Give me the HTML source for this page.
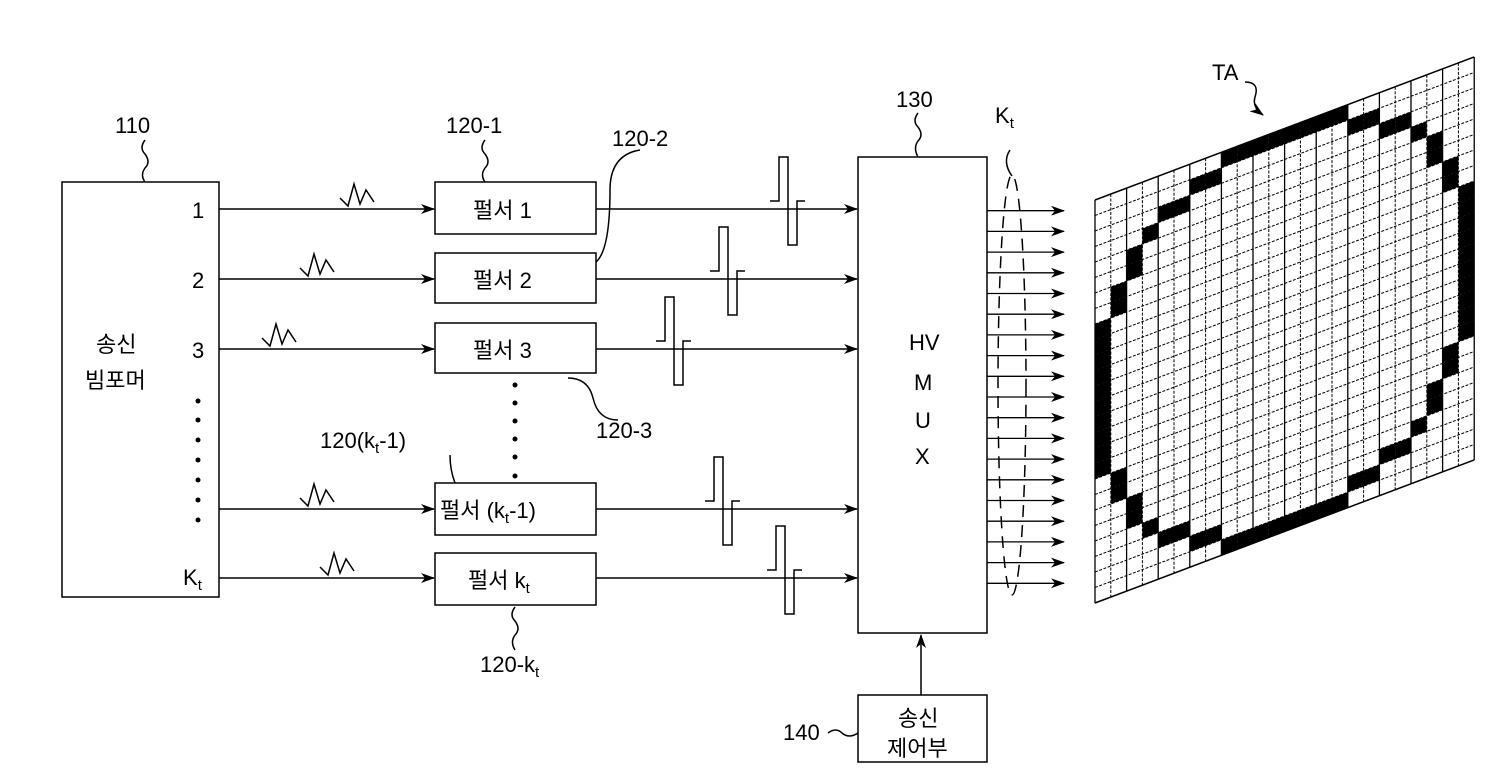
<!DOCTYPE html>
<html><head><meta charset="utf-8"><style>
body{margin:0;background:#fff;}
svg{display:block;}
text{font-family:"Liberation Sans","Noto Sans CJK KR",sans-serif;fill:#000;}
</style></head><body>
<svg id="s" width="1500" height="780" viewBox="0 0 1500 780" xmlns="http://www.w3.org/2000/svg">
<defs>
<marker id="ar" markerWidth="14" markerHeight="10" refX="13" refY="5" orient="auto" markerUnits="userSpaceOnUse">
<path d="M0,0 L14,5 L0,10 L4,5 Z" fill="#000"/></marker>
</defs>
<g fill="none" stroke="#000" stroke-width="1.5">
<rect x="62" y="182" width="157" height="415"/>
<path d="M145,140 q-6,8 0,14 q6,8 0,14 q-5,7 0,14"/>
<rect x="435" y="182" width="161" height="52"/>
<rect x="435" y="253" width="161" height="50"/>
<rect x="435" y="323" width="161" height="50"/>
<rect x="435" y="483" width="161" height="52"/>
<rect x="435" y="553" width="161" height="52"/>
<line x1="219" y1="209" x2="434" y2="209" marker-end="url(#ar)"/>
<line x1="219" y1="279" x2="434" y2="279" marker-end="url(#ar)"/>
<line x1="219" y1="349" x2="434" y2="349" marker-end="url(#ar)"/>
<line x1="219" y1="509" x2="434" y2="509" marker-end="url(#ar)"/>
<line x1="219" y1="578" x2="434" y2="578" marker-end="url(#ar)"/>
<line x1="596" y1="209" x2="857" y2="209" marker-end="url(#ar)"/>
<line x1="596" y1="279" x2="857" y2="279" marker-end="url(#ar)"/>
<line x1="596" y1="349" x2="857" y2="349" marker-end="url(#ar)"/>
<line x1="596" y1="509" x2="857" y2="509" marker-end="url(#ar)"/>
<line x1="596" y1="578" x2="857" y2="578" marker-end="url(#ar)"/>
<path d="M340,198 l8,8 l6,-22 l6,20 l6,-14 l8,12"/>
<path d="M300,268 l8,8 l6,-22 l6,20 l6,-14 l8,12"/>
<path d="M262,338 l8,8 l6,-22 l6,20 l6,-14 l8,12"/>
<path d="M300,498 l8,8 l6,-22 l6,20 l6,-14 l8,12"/>
<path d="M320,567 l8,8 l6,-22 l6,20 l6,-14 l8,12"/>
<path d="M770,201 h9 v-44 h9 v88 h9 v-44 h8"/>
<path d="M710,271 h9 v-44 h9 v88 h9 v-44 h8"/>
<path d="M656,341 h9 v-44 h9 v88 h9 v-44 h8"/>
<path d="M705,501 h9 v-44 h9 v88 h9 v-44 h8"/>
<path d="M767,570 h9 v-44 h9 v88 h9 v-44 h8"/>
<rect x="858" y="157" width="129" height="476"/>
<path d="M918,113 q-6,8 0,14 q6,8 0,14 q-5,7 0,16"/>
<rect x="858" y="695" width="129" height="67"/>
<line x1="921" y1="695" x2="921" y2="635" marker-end="url(#ar)"/>
<path d="M828,733 q8,-6 14,0 q7,6 16,0"/>
<ellipse cx="1012" cy="385" rx="14" ry="210" stroke-dasharray="12,8"/>
<path d="M1010,150 q-8,12 2,26"/>
<path d="M485,140 q-6,8 0,14 q6,8 0,14 q-5,7 0,14"/>
<path d="M640,150 q-30,5 -30,40 q0,60 -14,72"/>
<path d="M568,378 q20,0 25,20 q5,22 25,22"/>
<path d="M450,455 q0,15 5,28"/>
<path d="M515,607 q-6,8 0,14 q6,8 0,14 q-5,7 0,15"/>
<path d="M1245,82 q15,0 10,15 q-3,10 8,18" marker-end="url(#ar)"/>
</g>
<g fill="#000">
<circle cx="198" cy="401" r="2.5"/><circle cx="198" cy="420" r="2.5"/><circle cx="198" cy="440" r="2.5"/><circle cx="198" cy="460" r="2.5"/><circle cx="198" cy="480" r="2.5"/><circle cx="198" cy="500" r="2.5"/><circle cx="198" cy="520" r="2.5"/>
<circle cx="515" cy="385" r="2.5"/><circle cx="515" cy="403" r="2.5"/><circle cx="515" cy="421" r="2.5"/><circle cx="515" cy="439" r="2.5"/><circle cx="515" cy="457" r="2.5"/><circle cx="515" cy="476" r="2.5"/>
</g>
<g id="outs" fill="none" stroke="#000" stroke-width="1.3"></g>
<g id="grid"></g>
<g font-size="22">
<text x="115" y="133">110</text>
<text x="96" y="352">송신</text>
<text x="85" y="388">빔포머</text>
<text x="192" y="218">1</text>
<text x="192" y="288">2</text>
<text x="192" y="358">3</text>
<text x="183" y="585">K<tspan font-size="15" dy="5">t</tspan></text>
<text x="446" y="133">120-1</text>
<text x="612" y="146">120-2</text>
<text x="596" y="438">120-3</text>
<text x="320" y="448">120(k<tspan font-size="15" dy="5">t</tspan><tspan dy="-5">-1)</tspan></text>
<text x="480" y="672">120-k<tspan font-size="15" dy="5">t</tspan></text>
<text x="473" y="218">펄서  1</text>
<text x="473" y="288">펄서  2</text>
<text x="473" y="358">펄서  3</text>
<text x="440" y="518">펄서  (k<tspan font-size="15" dy="5">t</tspan><tspan dy="-5">-1)</tspan></text>
<text x="468" y="588">펄서  k<tspan font-size="15" dy="5">t</tspan></text>
<text x="896" y="107">130</text>
<text x="995" y="123">K<tspan font-size="15" dy="5">t</tspan></text>
<text x="909" y="350">HV</text>
<text x="914" y="390">M</text>
<text x="915" y="428">U</text>
<text x="915" y="464">X</text>
<text x="898" y="726">송신</text>
<text x="887" y="756">제어부</text>
<text x="783" y="740">140</text>
<text x="1212" y="80">TA</text>
</g>
</svg>
<script>
(function(){
var NS="http://www.w3.org/2000/svg";
var outs=document.getElementById("outs");
for(var i=0;i<19;i++){var y=210.7+i*20.7;var l=document.createElementNS(NS,"line");
l.setAttribute("x1",987);l.setAttribute("x2",1064);l.setAttribute("y1",y);l.setAttribute("y2",y);l.setAttribute("marker-end","url(#ar)");outs.appendChild(l);}
var g=document.getElementById("grid");
var X0=1095,Y0=200,cw=15.8,sl=5.96,rh=403/26,C=24,R=26;
function P(c,r){return [X0+c*cw,Y0-c*sl+r*rh];}
var black={};
function b(c,r){black[c+","+r]=1;black[(23-c)+","+r]=1;}
for(var c=8;c<=15;c++){black[c+",0"]=1;black[c+",25"]=1;}
var spec=[[16,[1,24]],[17,[1,24]],[18,[2,23]],[19,[2,23]],[20,[3,22]],[21,[4,5,20,21]],[22,[6,7,18,19]],[23,[8,9,10,11,12,13,14,15,16,17]]];
spec.forEach(function(s){s[1].forEach(function(r){b(s[0],r);});});
for(var k in black){var p=k.split(",");var c=+p[0],r=+p[1];
var a=P(c,r),bb=P(c+1,r),cc=P(c+1,r+1),d=P(c,r+1);
var pg=document.createElementNS(NS,"polygon");pg.setAttribute("points",[a,bb,cc,d].map(function(q){return q.join(",");}).join(" "));pg.setAttribute("fill","#000");g.appendChild(pg);}
for(var r=0;r<=R;r++){var a=P(0,r),e=P(C,r);var l=document.createElementNS(NS,"line");
l.setAttribute("x1",a[0]);l.setAttribute("y1",a[1]);l.setAttribute("x2",e[0]);l.setAttribute("y2",e[1]);l.setAttribute("stroke","#000");l.setAttribute("stroke-width",(r==0||r==R)?1.5:1);if(r>0&&r<R)l.setAttribute("stroke-dasharray","3,1.5");g.appendChild(l);}
for(var c=0;c<=C;c++){var a=P(c,0),e=P(c,R);var l=document.createElementNS(NS,"line");
l.setAttribute("x1",a[0]);l.setAttribute("y1",a[1]);l.setAttribute("x2",e[0]);l.setAttribute("y2",e[1]);l.setAttribute("stroke","#000");l.setAttribute("stroke-width",(c%2==0)?1.3:1);if(c%2==1)l.setAttribute("stroke-dasharray","3,1.5");g.appendChild(l);}
})();
</script>
</body></html>
